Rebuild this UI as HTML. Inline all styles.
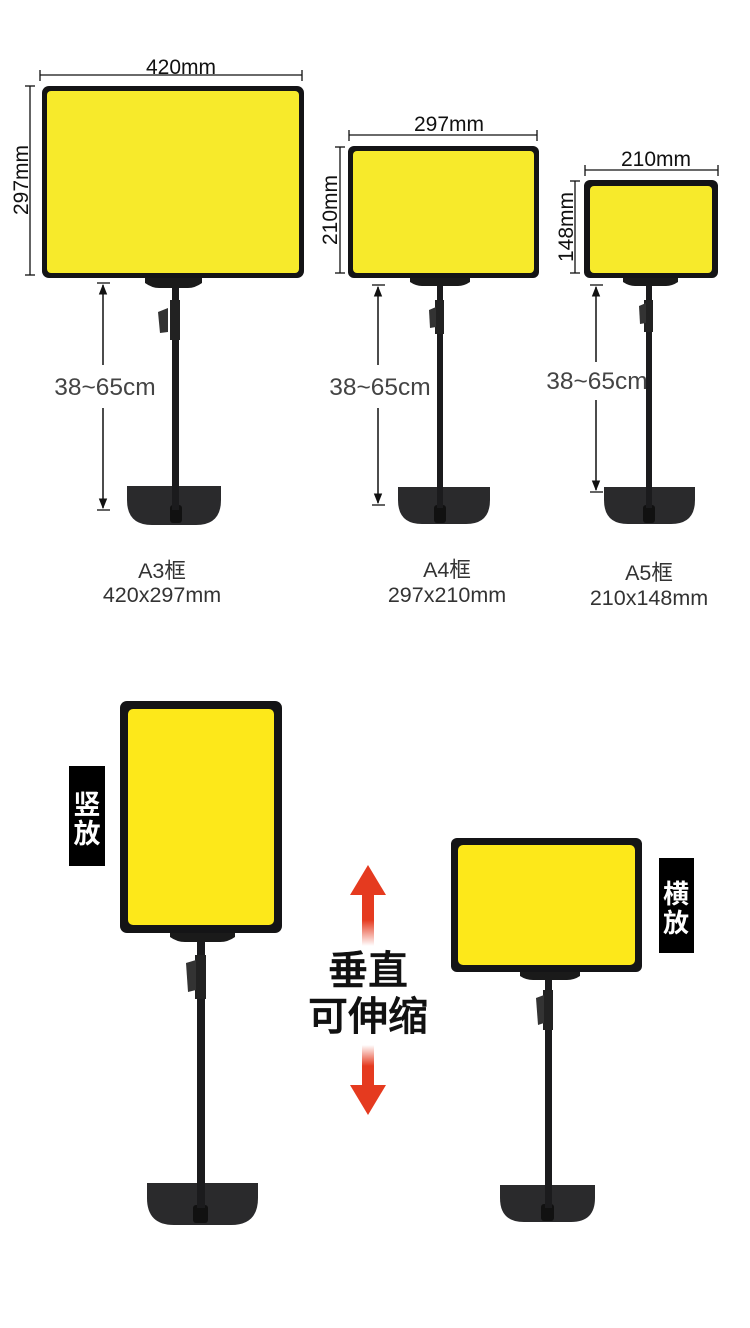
<!DOCTYPE html>
<html><head><meta charset="utf-8"><style>
html,body{margin:0;padding:0;background:#fff;}
svg{display:block;}
text{font-family:"Liberation Sans","Noto Sans CJK SC",sans-serif;}
.cj{font-family:"Noto Sans CJK SC","WenQuanYi Zen Hei",sans-serif;}
</style></head><body>
<svg width="750" height="1328" viewBox="0 0 750 1328" xmlns="http://www.w3.org/2000/svg">
<defs>
<linearGradient id="up" x1="0" y1="0" x2="0" y2="1">
<stop offset="0" stop-color="#e53a1f"/><stop offset="0.5" stop-color="#e53a1f"/><stop offset="1" stop-color="#e53a1f" stop-opacity="0"/></linearGradient>
<linearGradient id="dn" x1="0" y1="1" x2="0" y2="0">
<stop offset="0" stop-color="#e53a1f"/><stop offset="0.5" stop-color="#e53a1f"/><stop offset="1" stop-color="#e53a1f" stop-opacity="0"/></linearGradient>
<marker id="ah" viewBox="0 0 10 10" refX="9" refY="5" markerWidth="7" markerHeight="7" orient="auto-start-reverse"><path d="M0,1 L10,5 L0,9 z" fill="#111"/></marker>
</defs>

<!-- ===== Stand 1 (A3) ===== -->
<g>
<path d="M127,486 H221 V500 Q221,525 196,525 H152 Q127,525 127,500 Z" fill="#2a2a2c"/>
<rect x="170" y="505" width="12" height="18" rx="3" fill="#111"/>
<rect x="172" y="282" width="7" height="228" fill="#1b1b1d"/>
<rect x="170" y="300" width="10" height="40" fill="#222"/>
<path d="M158,312 L168,308 L168,332 L160,333 Z" fill="#333"/>
<path d="M145,276 H202 V283 Q195,288 188,288 H159 Q152,288 145,283 Z" fill="#1a1a1a"/>
<rect x="42" y="86" width="262" height="192" rx="7" fill="#141416"/>
<rect x="47" y="91" width="252" height="182" rx="4" fill="#f7ea2b"/>
</g>
<line x1="40" y1="75" x2="302" y2="75" stroke="#111" stroke-width="1.3"/>
<line x1="40" y1="70" x2="40" y2="81" stroke="#111" stroke-width="1.3"/>
<line x1="302" y1="70" x2="302" y2="81" stroke="#111" stroke-width="1.3"/>
<text x="181" y="74" font-size="21" text-anchor="middle" fill="#111">420mm</text>
<line x1="30" y1="86" x2="30" y2="275" stroke="#111" stroke-width="1.3"/>
<line x1="25" y1="86" x2="35" y2="86" stroke="#111" stroke-width="1.3"/>
<line x1="25" y1="275" x2="35" y2="275" stroke="#111" stroke-width="1.3"/>
<text transform="translate(28,180) rotate(-90)" font-size="21" text-anchor="middle" fill="#111">297mm</text>
<line x1="103" y1="365" x2="103" y2="285" stroke="#111" stroke-width="1.5" marker-end="url(#ah)"/>
<line x1="103" y1="408" x2="103" y2="508" stroke="#111" stroke-width="1.5" marker-end="url(#ah)"/>
<line x1="97" y1="283" x2="110" y2="283" stroke="#111" stroke-width="1.3"/>
<line x1="97" y1="510" x2="110" y2="510" stroke="#111" stroke-width="1.3"/>
<text x="105" y="395" font-size="24.5" text-anchor="middle" fill="#444">38~65cm</text>
<text x="162" y="578" font-size="21.5" text-anchor="middle" fill="#333">A3<tspan class="cj">框</tspan></text>
<text x="162" y="602" font-size="21.5" text-anchor="middle" fill="#333">420x297mm</text>

<!-- ===== Stand 2 (A4) ===== -->
<g>
<path d="M398,487 H490 V500 Q490,524 466,524 H422 Q398,524 398,500 Z" fill="#2a2a2c"/>
<rect x="434" y="505" width="12" height="18" rx="3" fill="#111"/>
<rect x="437" y="282" width="6" height="226" fill="#1b1b1d"/>
<rect x="435" y="300" width="9" height="34" fill="#222"/>
<path d="M429,310 L436,307 L436,327 L430,328 Z" fill="#333"/>
<path d="M410,276 H470 V282 Q464,286 458,286 H422 Q416,286 410,282 Z" fill="#1a1a1a"/>
<rect x="348" y="146" width="191" height="132" rx="6" fill="#141416"/>
<rect x="353" y="151" width="181" height="122" rx="4" fill="#f7ea2b"/>
</g>
<line x1="349" y1="135" x2="537" y2="135" stroke="#111" stroke-width="1.3"/>
<line x1="349" y1="130" x2="349" y2="141" stroke="#111" stroke-width="1.3"/>
<line x1="537" y1="130" x2="537" y2="141" stroke="#111" stroke-width="1.3"/>
<text x="449" y="131" font-size="21" text-anchor="middle" fill="#111">297mm</text>
<line x1="340" y1="147" x2="340" y2="273" stroke="#111" stroke-width="1.3"/>
<line x1="335" y1="147" x2="345" y2="147" stroke="#111" stroke-width="1.3"/>
<line x1="335" y1="273" x2="345" y2="273" stroke="#111" stroke-width="1.3"/>
<text transform="translate(337,210) rotate(-90)" font-size="21" text-anchor="middle" fill="#111">210mm</text>
<line x1="378" y1="365" x2="378" y2="287" stroke="#111" stroke-width="1.5" marker-end="url(#ah)"/>
<line x1="378" y1="408" x2="378" y2="503" stroke="#111" stroke-width="1.5" marker-end="url(#ah)"/>
<line x1="372" y1="285" x2="385" y2="285" stroke="#111" stroke-width="1.3"/>
<line x1="372" y1="505" x2="385" y2="505" stroke="#111" stroke-width="1.3"/>
<text x="380" y="395" font-size="24.5" text-anchor="middle" fill="#444">38~65cm</text>
<text x="447" y="577" font-size="21.5" text-anchor="middle" fill="#333">A4<tspan class="cj">框</tspan></text>
<text x="447" y="602" font-size="21.5" text-anchor="middle" fill="#333">297x210mm</text>

<!-- ===== Stand 3 (A5) ===== -->
<g>
<path d="M604,487 H695 V500 Q695,524 671,524 H628 Q604,524 604,500 Z" fill="#2a2a2c"/>
<rect x="643" y="505" width="12" height="18" rx="3" fill="#111"/>
<rect x="646" y="282" width="6" height="226" fill="#1b1b1d"/>
<rect x="644" y="300" width="9" height="32" fill="#222"/>
<path d="M639,306 L646,303 L646,323 L640,324 Z" fill="#333"/>
<path d="M623,276 H678 V282 Q672,286 666,286 H635 Q629,286 623,282 Z" fill="#1a1a1a"/>
<rect x="584" y="180" width="134" height="98" rx="6" fill="#141416"/>
<rect x="590" y="186" width="122" height="87" rx="4" fill="#f7ea2b"/>
</g>
<line x1="585" y1="170" x2="718" y2="170" stroke="#111" stroke-width="1.3"/>
<line x1="585" y1="165" x2="585" y2="176" stroke="#111" stroke-width="1.3"/>
<line x1="718" y1="165" x2="718" y2="176" stroke="#111" stroke-width="1.3"/>
<text x="656" y="166" font-size="21" text-anchor="middle" fill="#111">210mm</text>
<line x1="575" y1="181" x2="575" y2="273" stroke="#111" stroke-width="1.3"/>
<line x1="570" y1="181" x2="580" y2="181" stroke="#111" stroke-width="1.3"/>
<line x1="570" y1="273" x2="580" y2="273" stroke="#111" stroke-width="1.3"/>
<text transform="translate(573,227) rotate(-90)" font-size="21" text-anchor="middle" fill="#111">148mm</text>
<line x1="596" y1="362" x2="596" y2="287" stroke="#111" stroke-width="1.5" marker-end="url(#ah)"/>
<line x1="596" y1="400" x2="596" y2="490" stroke="#111" stroke-width="1.5" marker-end="url(#ah)"/>
<line x1="590" y1="285" x2="603" y2="285" stroke="#111" stroke-width="1.3"/>
<line x1="590" y1="492" x2="603" y2="492" stroke="#111" stroke-width="1.3"/>
<text x="597" y="389" font-size="24.5" text-anchor="middle" fill="#444">38~65cm</text>
<text x="649" y="580" font-size="21.5" text-anchor="middle" fill="#333">A5<tspan class="cj">框</tspan></text>
<text x="649" y="605" font-size="21.5" text-anchor="middle" fill="#333">210x148mm</text>

<!-- ===== Bottom portrait ===== -->
<g>
<path d="M147,1183 H258 V1198 Q258,1225 231,1225 H174 Q147,1225 147,1198 Z" fill="#2a2a2c"/>
<rect x="193" y="1205" width="15" height="18" rx="3" fill="#111"/>
<rect x="197" y="936" width="8" height="272" fill="#1b1b1d"/>
<rect x="195" y="955" width="11" height="44" fill="#222"/>
<path d="M186,963 L196,960 L196,990 L188,992 Z" fill="#333"/>
<path d="M170,930 H235 V937 Q228,942 220,942 H185 Q177,942 170,937 Z" fill="#1a1a1a"/>
<rect x="120" y="701" width="162" height="232" rx="7" fill="#141416"/>
<rect x="128" y="709" width="146" height="216" rx="5" fill="#fde81a"/>
</g>
<rect x="69" y="766" width="36" height="100" fill="#000"/>
<text x="87" y="814" font-size="27" font-weight="bold" text-anchor="middle" fill="#fff" class="cj">竖</text>
<text x="87" y="843" font-size="27" font-weight="bold" text-anchor="middle" fill="#fff" class="cj">放</text>

<!-- ===== Bottom landscape ===== -->
<g>
<path d="M500,1185 H595 V1198 Q595,1222 571,1222 H524 Q500,1222 500,1198 Z" fill="#2a2a2c"/>
<rect x="541" y="1204" width="13" height="17" rx="3" fill="#111"/>
<rect x="545" y="976" width="7" height="232" fill="#1b1b1d"/>
<rect x="543" y="990" width="10" height="40" fill="#222"/>
<path d="M536,998 L544,995 L544,1023 L538,1025 Z" fill="#333"/>
<path d="M520,970 H580 V976 Q574,980 567,980 H533 Q526,980 520,976 Z" fill="#1a1a1a"/>
<rect x="451" y="838" width="191" height="134" rx="6" fill="#141416"/>
<rect x="458" y="845" width="177" height="120" rx="5" fill="#fde81a"/>
</g>
<rect x="659" y="858" width="35" height="95" fill="#000"/>
<text x="676" y="903" font-size="26" font-weight="bold" text-anchor="middle" fill="#fff" class="cj">横</text>
<text x="676" y="932" font-size="26" font-weight="bold" text-anchor="middle" fill="#fff" class="cj">放</text>

<!-- ===== Red arrows ===== -->
<path d="M368,865 L386,895 L350,895 Z" fill="#e53a1f"/>
<rect x="362" y="894" width="12" height="52" fill="url(#up)"/>
<rect x="362" y="1045" width="12" height="42" fill="url(#dn)"/>
<path d="M368,1115 L386,1085 L350,1085 Z" fill="#e53a1f"/>
<text x="368" y="984" font-size="40" font-weight="500" stroke="#111" stroke-width="0.6" text-anchor="middle" fill="#111" class="cj">垂直</text>
<text x="368" y="1030" font-size="40" font-weight="500" stroke="#111" stroke-width="0.6" text-anchor="middle" fill="#111" class="cj">可伸缩</text>
</svg>
</body></html>
